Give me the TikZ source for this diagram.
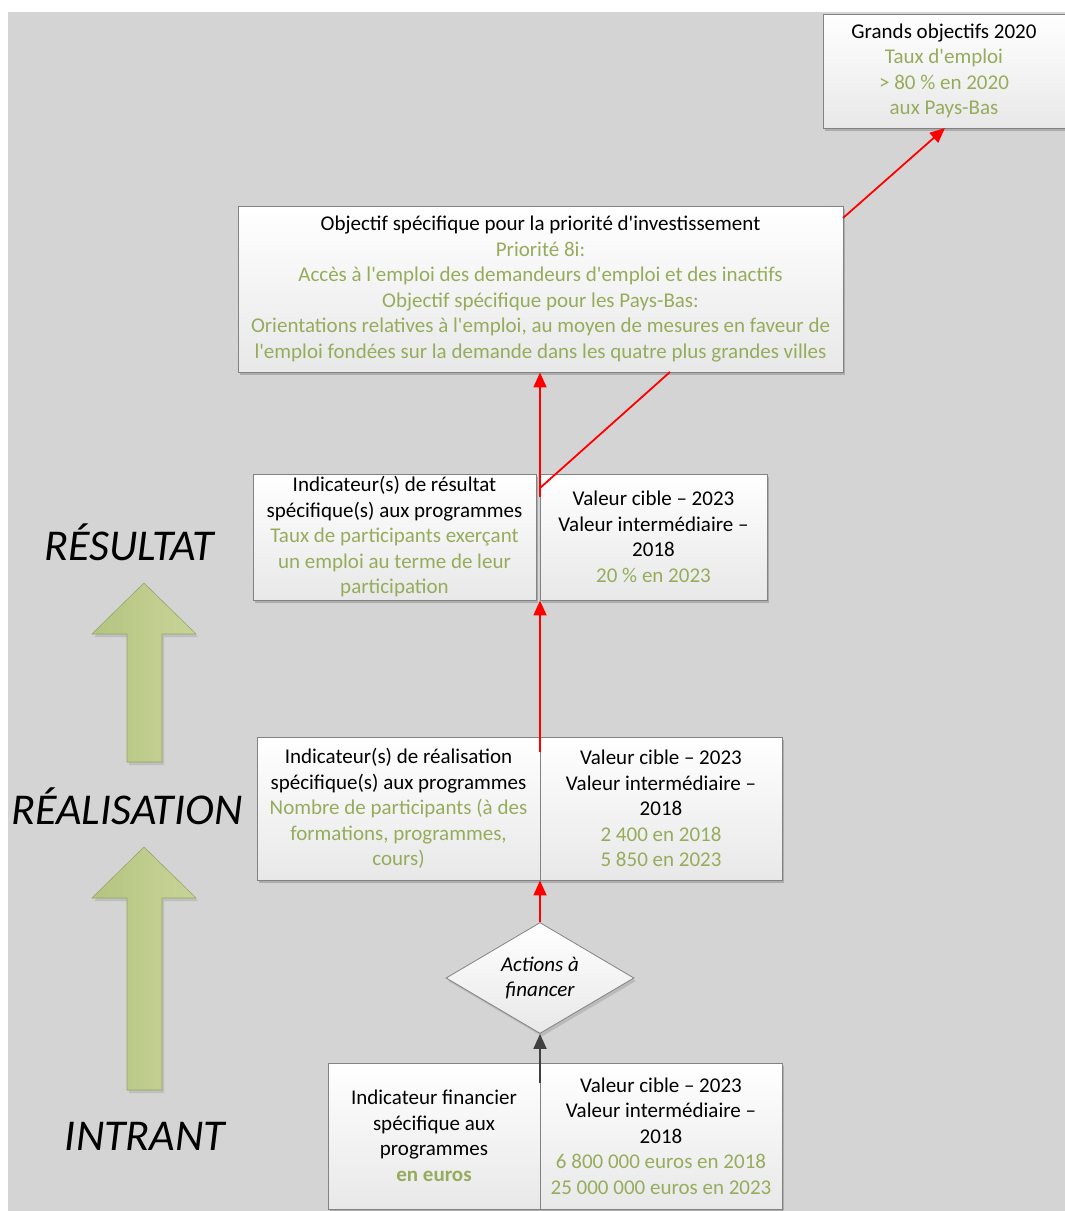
\documentclass[tikz,border=0pt]{standalone}
\usepackage{fontspec}
\setmainfont{Carlito}[Ligatures=TeXOff]
\usetikzlibrary{arrows.meta,shapes.geometric,shadows}
\definecolor{bgcol}{RGB}{212,212,212}
\definecolor{tgreen}{RGB}{150,172,92}
\definecolor{boxline}{RGB}{130,130,130}
\definecolor{boxbot}{RGB}{232,232,232}
\definecolor{arrowgreenA}{RGB}{180,196,128}
\definecolor{arrowgreenB}{RGB}{200,212,152}
\definecolor{arrowline}{RGB}{150,165,105}
\definecolor{darkarrow}{RGB}{64,64,64}
\newcommand{\gr}[1]{\textcolor{tgreen}{#1}}
\tikzset{
  infobox/.style={draw=boxline, line width=0.9pt, top color=white, bottom color=boxbot,
    inner sep=0pt, align=center, font=\fontsize{21}{25.5}\selectfont,
    drop shadow={shadow xshift=2pt, shadow yshift=-3pt, fill=black, opacity=0.18}},
  decision/.style={diamond, aspect=1.7, draw=boxline, line width=0.8pt, top color=white, bottom color=boxbot,
    inner sep=0pt, align=center, font=\fontsize{21}{25.5}\selectfont\itshape,
    drop shadow={shadow xshift=2pt, shadow yshift=-3pt, fill=black, opacity=0.12}},
  stagelabel/.style={font=\fontsize{44}{48}\selectfont\itshape, inner sep=0pt},
  redarrow/.style={draw=red, line width=1.8pt, -{Triangle[length=15pt,width=13pt]}},
  redline/.style={draw=red, line width=1.8pt},
  darkarrowstyle/.style={draw=darkarrow, line width=1.8pt, -{Triangle[length=15pt,width=13pt]}},
  bigarrow/.style={left color=arrowgreenA, right color=arrowgreenB, draw=arrowline, line width=0.6pt,
    drop shadow={shadow xshift=2pt, shadow yshift=-3pt, fill=black, opacity=0.1}}
}
\begin{document}
\begin{tikzpicture}[x=1pt,y=-1pt]
\useasboundingbox (0,0) rectangle (1065,1211);
\fill[white] (0,0) rectangle (1065,1211);
\fill[bgcol] (8,12) rectangle (1065,1211);

% big green arrows
\path[bigarrow] (144,583) -- (196,634) -- (162,634) -- (162,762) -- (127,762) -- (127,634) -- (92,634) -- cycle;
\path[bigarrow] (144,847) -- (196,898) -- (162,898) -- (162,1090) -- (127,1090) -- (127,898) -- (92,898) -- cycle;

% stage labels
\node[stagelabel] (lres) at (129,542) {RÉSULTAT};
\node[stagelabel] (lreal) at (127,806) {RÉALISATION};
\node[stagelabel] (lin) at (145,1136) {INTRANT};

% boxes
\node[infobox, minimum width=242pt, minimum height=114pt] (goal) at (944,71) {Grands objectifs 2020\\\gr{Taux d'emploi}\\\gr{> 80 \% en 2020}\\\gr{aux Pays-Bas}};

\node[infobox, minimum width=605pt, minimum height=166pt] (obj) at (540.5,289) {Objectif spécifique pour la priorité d'investissement\\\gr{Priorité 8i:}\\\gr{Accès à l'emploi des demandeurs d'emploi et des inactifs}\\\gr{Objectif spécifique pour les Pays-Bas:}\\\gr{Orientations relatives à l'emploi, au moyen de mesures en faveur de}\\\gr{l'emploi fondées sur la demande dans les quatre plus grandes villes}};

\node[infobox, minimum width=283pt, minimum height=126pt] (resL) at (394.5,537) {Indicateur(s) de résultat\\spécifique(s) aux programmes\\\gr{Taux de participants exerçant}\\\gr{un emploi au terme de leur}\\\gr{participation}};
\node[infobox, minimum width=227pt, minimum height=126pt] (resR) at (653.5,537) {Valeur cible – 2023\\Valeur intermédiaire –\\2018\\\gr{20 \% en 2023}};

\node[infobox, minimum width=283pt, minimum height=143pt] (realL) at (398.5,808.5) {Indicateur(s) de réalisation\\spécifique(s) aux programmes\\\gr{Nombre de participants (à des}\\\gr{formations, programmes,}\\\gr{cours)}};
\node[infobox, minimum width=242pt, minimum height=143pt] (realR) at (661,808.5) {Valeur cible – 2023\\Valeur intermédiaire –\\2018\\\gr{2 400 en 2018}\\\gr{5 850 en 2023}};

\node[decision, minimum width=188pt, minimum height=111pt] (act) at (540,978) {Actions à\\financer};

\node[infobox, minimum width=212pt, minimum height=146pt] (inL) at (434,1136) {Indicateur financier\\spécifique aux\\programmes\\\textbf{\gr{en euros}}};
\node[infobox, minimum width=242pt, minimum height=146pt] (inR) at (661,1136) {Valeur cible – 2023\\Valeur intermédiaire –\\2018\\\gr{6 800 000 euros en 2018}\\\gr{25 000 000 euros en 2023}};

% connector start points
\coordinate (sIn) at (540,1083);
\coordinate (sReal) at (540,752);
\coordinate (sRes) at (540,497);
\coordinate (sResD) at (540,488);
\coordinate (eObjD) at (670,372);
\coordinate (sObj) at (843,218);
\coordinate (eGoal) at (945,128);

\draw[darkarrowstyle] (sIn) -- (act.south);
\draw[redarrow] (act.north) -- (act.north |- realL.south);
\draw[redarrow] (sReal) -- (sReal |- resL.south);
\draw[redarrow] (sRes) -- (sRes |- obj.south);
\draw[redline] (sResD) -- (eObjD);
\draw[redarrow] (sObj) -- (eGoal);
\end{tikzpicture}
\end{document}
